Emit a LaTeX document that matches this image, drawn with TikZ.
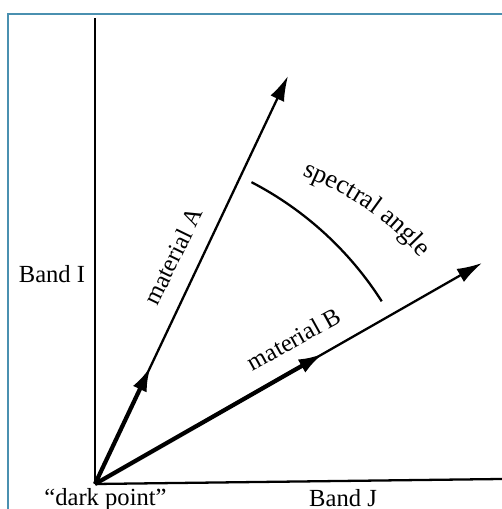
\documentclass[tikz,border=0pt]{standalone}
\usepackage{fontspec}
\setmainfont{Liberation Serif}
\usepackage{xcolor}
\usetikzlibrary{positioning,arrows.meta,calc,decorations.text}
\definecolor{framec}{RGB}{74,144,176}

\begin{document}
\begin{tikzpicture}[
  lbl/.style={font=\fontsize{14}{16}\selectfont, inner sep=1pt},
  axis/.style={line width=1.3pt},
  vec/.style={line width=1.3pt, -{Latex[length=5mm, width=3mm]}},
  unit/.style={line width=2.4pt, -{Latex[length=5mm, width=3mm]}}]
  \useasboundingbox (0,0) rectangle (10.04,10.18);
  \draw[framec, line width=0.8pt] (0.16,0) -- (0.16,9.90) -- (10.04,9.90);
  % axes
  \coordinate (dark) at (1.90,0.50);
  \coordinate (itop) at (1.90,9.82);
  \coordinate (jend) at (10.04,0.60);
  \draw[axis] (dark) -- (itop);
  \draw[axis] (dark) -- (jend);
  % material vectors
  \coordinate (atip) at (5.76,8.66);
  \coordinate (btip) at (9.64,4.92);
  \coordinate (aunit) at ($(dark)!2.6cm!(atip)$);
  \coordinate (bunit) at ($(dark)!5.26cm!(btip)$);
  \draw[vec] (dark) -- (atip);
  \draw[vec] (dark) -- (btip);
  \draw[unit] (dark) -- (aunit);
  \draw[unit] (dark) -- (bunit);
  % angle
  \draw[line width=1.3pt] ($(dark)+(62.6:6.8)$) arc[start angle=62.6, end angle=32.5, radius=6.8];
  \coordinate (sa1) at (5.82,6.76);
  \coordinate (sa2) at (8.58,4.84);
  \path[decorate, decoration={text along path, text align=center,
    text={|\fontsize{15}{17}\selectfont|spectral angle}}] (sa1) to[bend left=14] (sa2);
  \node[lbl] (bandi) at (1.04,4.70) {Band I};
  \node[lbl, anchor=base] (dp) at (2.11,0.06) {“dark point”};
  \node[lbl, anchor=base] (bandj) at (6.86,0.04) {Band J};
  \node[lbl, rotate=64] (ma) at (3.46,5.06) {material A};
  \node[lbl, rotate=29] (mb) at (5.88,3.40) {material B};
\end{tikzpicture}
\end{document}
